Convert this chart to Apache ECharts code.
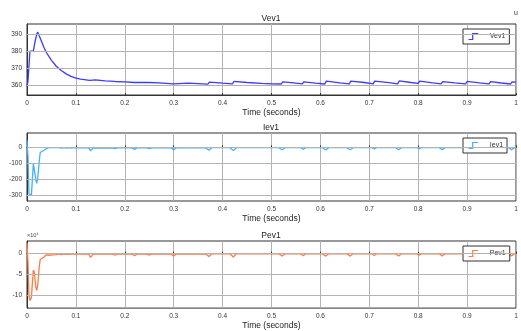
<!DOCTYPE html>
<html>
<head>
<meta charset="utf-8">
<script src="https://cdn.jsdelivr.net/npm/echarts@6/dist/echarts.min.js"></script>
<style>
  html, body { margin: 0; padding: 0; background: #fff; }
  #main { width: 521px; height: 331px; }
</style>
</head>
<body>
<div id="main"></div>
<script>
// time (s), value pairs
const vev1 = [
  [0, 359], [0.002, 362], [0.006, 380], [0.008, 381], [0.010, 380.2], [0.013, 380], [0.016, 385],
  [0.020, 390], [0.022, 391.2], [0.025, 389], [0.03, 385.5], [0.035, 382], [0.04, 379],
  [0.05, 374.5], [0.06, 371], [0.07, 368.5], [0.08, 366.5], [0.09, 365], [0.1, 364],
  [0.11, 363.4], [0.128, 362.6], [0.131, 363.6], [0.14, 363], [0.16, 362.4], [0.18, 362],
  [0.182, 362.4], [0.2, 361.8], [0.22, 361.4], [0.222, 362], [0.25, 361.4], [0.252, 361.8],
  [0.27, 361.2], [0.30, 360.6], [0.303, 361.6], [0.33, 361], [0.37, 360.4], [0.373, 361.6],
  [0.40, 361], [0.42, 360.6], [0.423, 362], [0.45, 361.4], [0.48, 360.9], [0.50, 360.6],
  [0.52, 360.5], [0.523, 361.8], [0.545, 361.2], [0.563, 360.6], [0.566, 361.8], [0.59, 361],
  [0.609, 360.5], [0.612, 362.2], [0.64, 361.2], [0.659, 360.6], [0.662, 362.2], [0.69, 361.4],
  [0.708, 360.6], [0.711, 362.2], [0.74, 361.3], [0.758, 360.6], [0.761, 362.3], [0.785, 361.4],
  [0.800, 360.9], [0.803, 362.2], [0.83, 361.2], [0.847, 360.6], [0.850, 361.9], [0.875, 361.2],
  [0.897, 360.6], [0.900, 362], [0.925, 361.2], [0.945, 360.6], [0.948, 361.9], [0.97, 361.1],
  [0.989, 360.5], [0.992, 361.8], [1.0, 361.6]
];

const iev1 = [
  [0, 45], [0.002, -60], [0.004, -290], [0.006, -300], [0.009, -300], [0.011, -200],
  [0.013, -100], [0.015, -110], [0.018, -200], [0.020, -225], [0.022, -190], [0.025, -90],
  [0.027, -32], [0.031, -26], [0.035, -18], [0.039, -8], [0.042, -3], [0.045, -10],
  [0.048, -2], [0.052, -6], [0.056, -1], [0.06, -5], [0.065, -1], [0.07, -5], [0.075, -1],
  [0.08, -5], [0.085, -1], [0.09, -4], [0.1, -2], [0.12, -3], [0.126, -3], [0.130, -22],
  [0.135, -4], [0.175, -3], [0.18, -8], [0.185, -3], [0.215, -3], [0.22, -12], [0.225, -3],
  [0.245, -3], [0.25, -8], [0.255, -3], [0.295, -3], [0.30, -15], [0.305, -3], [0.365, -2],
  [0.372, -18], [0.378, -2], [0.415, -2], [0.422, -20], [0.428, -2], [0.515, -2], [0.522, -15],
  [0.528, -2], [0.56, -2], [0.565, -12], [0.57, -2], [0.604, -2], [0.611, -16], [0.617, -2],
  [0.654, -2], [0.661, -15], [0.667, -2], [0.705, -2], [0.710, -10], [0.715, -2], [0.754, -2],
  [0.760, -15], [0.766, -2], [0.797, -2], [0.802, -8], [0.807, -2], [0.843, -2], [0.849, -14],
  [0.855, -2], [0.895, -2], [0.900, -8], [0.905, -2], [0.941, -2], [0.947, -14], [0.953, -2],
  [0.985, -2], [0.991, -14], [0.997, -2], [1.0, -2]
];

// Pev1 in units of 1e4
const pev1 = [
  [0, 2.5], [0.002, -2], [0.004, -10], [0.006, -11.2], [0.009, -10.5], [0.011, -7],
  [0.013, -3.9], [0.015, -4.4], [0.018, -8], [0.020, -8.8], [0.022, -7.5], [0.025, -3.2],
  [0.027, -1.4], [0.031, -1.1], [0.035, -0.8], [0.039, -0.3], [0.042, -0.1], [0.045, -0.4],
  [0.048, -0.1], [0.052, -0.3], [0.056, -0.05], [0.06, -0.25], [0.065, -0.05], [0.07, -0.25],
  [0.075, -0.05], [0.08, -0.2], [0.09, -0.1], [0.1, -0.1], [0.126, -0.1], [0.130, -0.9],
  [0.135, -0.15], [0.175, -0.1], [0.18, -0.4], [0.185, -0.1], [0.215, -0.1], [0.22, -0.5],
  [0.225, -0.1], [0.245, -0.1], [0.25, -0.35], [0.255, -0.1], [0.295, -0.1], [0.30, -0.6],
  [0.305, -0.1], [0.365, -0.05], [0.372, -0.7], [0.378, -0.05], [0.415, -0.05], [0.422, -0.8],
  [0.428, -0.05], [0.515, -0.05], [0.522, -0.6], [0.528, -0.05], [0.56, -0.05], [0.565, -0.5],
  [0.57, -0.05], [0.604, -0.05], [0.611, -0.6], [0.617, -0.05], [0.654, -0.05], [0.661, -0.6],
  [0.667, -0.05], [0.705, -0.05], [0.710, -0.45], [0.715, -0.05], [0.754, -0.05], [0.760, -0.6],
  [0.766, -0.05], [0.797, -0.05], [0.802, -0.35], [0.807, -0.05], [0.843, -0.05], [0.849, -0.55],
  [0.855, -0.05], [0.895, -0.05], [0.900, -0.35], [0.905, -0.05], [0.941, -0.05], [0.947, -0.55],
  [0.953, -0.05], [0.985, -0.05], [0.991, -0.55], [0.997, -0.05], [1.0, -0.05]
];

const vevTicks = [360, 370, 380, 390];
const ievTicks = [-300, -200, -100, 0];
const pevTicks = [-10, -5, 0];

const names = ['Vev1', 'Iev1', 'Pev1'];
const colors = ['#3b3bff', '#40b0ff', '#ff7a45'];
const yRanges = [[354, 396], [-335, 90], [-13, 3]];
const tickSets = [vevTicks, ievTicks, pevTicks];
const datasets = [vev1, iev1, pev1];

const tops = [24, 133, 241];
const heights = [71, 68, 68];

const font = 'Liberation Sans, Arial, Helvetica, sans-serif';
const stepIcon = 'path://M0,10 L7,10 L7,0 L16,0';

const chart = echarts.init(document.getElementById('main'), null, { renderer: 'canvas' });

const option = {
  backgroundColor: '#fff',
  animation: false,
  title: names.map((n, i) => ({
    text: n,
    left: 271,
    textAlign: 'center',
    top: tops[i] - 10,
    padding: 0,
    textStyle: { fontSize: 8.5, fontWeight: 'normal', color: '#222', fontFamily: font }
  })),
  legend: names.map((n, i) => ({
    data: [n],
    left: 463,
    top: tops[i] + 5,
    padding: [2, 4, 2, 3],
    itemWidth: 15,
    itemHeight: 6,
    itemGap: 2,
    icon: stepIcon,
    itemStyle: { color: 'none', borderColor: colors[i], borderWidth: 1.2 },
    lineStyle: { color: colors[i], width: 1.2 },
    backgroundColor: '#fff',
    borderColor: '#333',
    borderWidth: 1,
    borderRadius: 0,
    textStyle: { fontSize: 7, color: '#333', fontFamily: font, padding: [0, 0, 0, 4] }
  })),
  grid: tops.map((t, i) => ({
    left: 27,
    right: 5,
    top: t,
    height: heights[i],
    show: true,
    borderColor: '#333',
    borderWidth: 1,
    backgroundColor: '#fff'
  })),
  xAxis: tops.map((t, i) => ({
    type: 'value',
    gridIndex: i,
    min: 0,
    max: 1,
    interval: 0.1,
    name: 'Time (seconds)',
    nameLocation: 'middle',
    nameGap: 12,
    nameTextStyle: { fontSize: 8.5, color: '#222', fontFamily: font },
    axisLine: { show: true, lineStyle: { color: '#333', width: 1 } },
    axisTick: { show: true, inside: true, length: 2, lineStyle: { color: '#333' } },
    axisLabel: { fontSize: 6.5, color: '#333', margin: 5, fontFamily: font },
    splitLine: { show: true, lineStyle: { color: '#b3b3b3', width: 1 } }
  })),
  yAxis: tops.map((t, i) => ({
    type: 'value',
    gridIndex: i,
    min: yRanges[i][0],
    max: yRanges[i][1],
    axisLine: { show: true, lineStyle: { color: '#333', width: 1 } },
    axisTick: { show: true, inside: true, length: 2, customValues: tickSets[i], lineStyle: { color: '#333' } },
    axisLabel: { fontSize: 6.5, color: '#333', margin: 5, fontFamily: font, customValues: tickSets[i] },
    splitLine: { show: false }
  })),
  graphic: [
    { type: 'text', left: 514, top: 10, style: { text: 'u', fontSize: 7, fill: '#333', fontFamily: font } },
    { type: 'text', left: 27, top: 232, style: { text: '\u00d710\u2074', fontSize: 5.5, fill: '#444', fontFamily: font } }
  ],
  series: []
};

names.forEach((n, i) => {
  // horizontal grid lines at the tick values
  option.series.push({
    type: 'line',
    xAxisIndex: i,
    yAxisIndex: i,
    data: [],
    silent: true,
    z: 1,
    markLine: {
      silent: true,
      symbol: ['none', 'none'],
      label: { show: false },
      lineStyle: { color: '#b3b3b3', type: 'solid', width: 1 },
      data: tickSets[i].map(v => ({ yAxis: v }))
    }
  });
  option.series.push({
    name: n,
    type: 'line',
    xAxisIndex: i,
    yAxisIndex: i,
    data: datasets[i],
    showSymbol: false,
    color: colors[i],
    lineStyle: { width: 1.3, color: colors[i] },
    z: 3
  });
});

chart.setOption(option);
</script>
</body>
</html>
